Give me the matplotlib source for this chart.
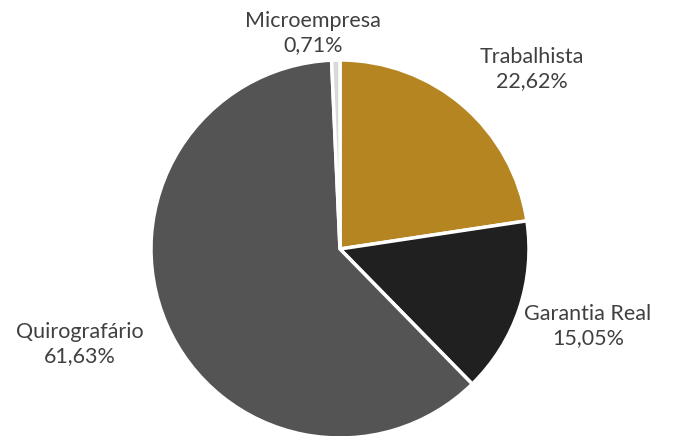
import matplotlib.pyplot as plt

labels = ['Trabalhista', 'Garantia Real', 'Quirografário', 'Microempresa']
values = [22.62, 15.05, 61.63, 0.71]
pct_text = ['22,62%', '15,05%', '61,63%', '0,71%']
colors = ['#B58522', '#202020', '#545454', '#D9D9D9']
# label anchor positions (pixels, top-left origin)
label_pos = [(532, 69), (588, 326), (80, 344), (313, 33)]

fig = plt.figure(figsize=(6.73, 4.36), dpi=100)
ax = fig.add_axes([0, 0, 1, 1])

ax.pie(values, colors=colors, startangle=90, counterclock=False,
       center=(340, 436 - 249), radius=189,
       wedgeprops=dict(edgecolor='white', linewidth=2.5))

for lab, pct, (x, y) in zip(labels, pct_text, label_pos):
    ax.text(x, 436 - y, lab + '\n' + pct, ha='center', va='center',
            fontsize=15.5, color='#404040', family='Lato', linespacing=1.25)

ax.set_xlim(0, 673)
ax.set_ylim(0, 436)
ax.set_aspect('equal')
ax.axis('off')

fig.savefig('out.png', dpi=100)
